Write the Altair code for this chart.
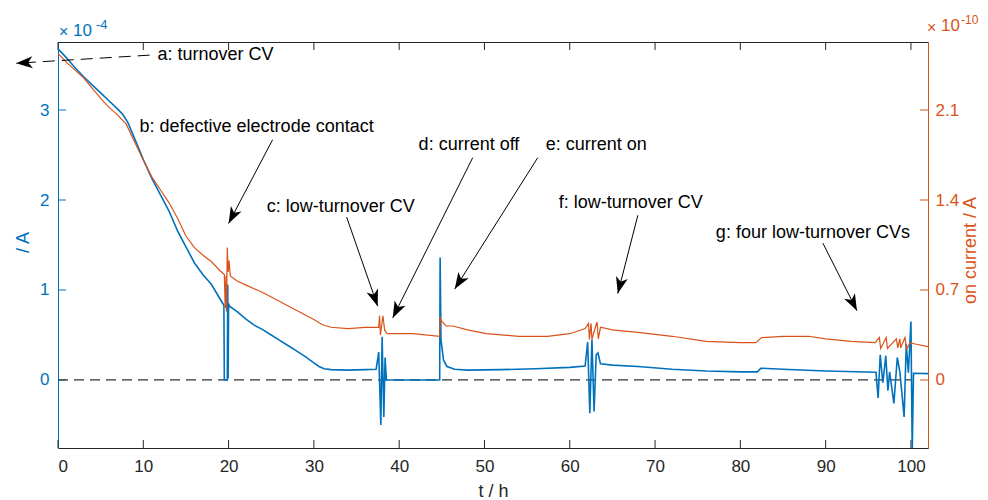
import math
import altair as alt
import pandas as pd

# ---------------- data ----------------
# blue: current, units of 1e-4 A
blue_t = [0, 1, 2, 3, 4, 5, 6, 7, 7.6, 8.2, 9, 10, 11, 12, 13, 14, 15, 16, 17, 18, 19,
          19.45, 19.5, 19.85, 19.9, 19.95, 20.0, 20.1,
          21, 22, 23, 24, 25, 26, 27, 28, 29, 30, 30.6, 31.2,
          32, 34, 36, 37.3,
          37.6, 37.85, 38.0, 38.2, 38.35, 38.5,
          44.75, 44.8, 44.9, 45.2, 45.6, 46.5,
          48, 52, 56, 60, 61.8,
          62.1, 62.35, 62.6, 62.85, 63.1, 63.3, 63.6,
          65, 68, 72, 76, 80, 82, 82.4, 85, 90, 95.9,
          96.15, 96.4, 96.7, 96.85, 97.05, 97.3, 97.5, 98.0, 98.4, 98.7, 99.2, 99.45, 99.7,
          100.0, 100.15, 100.3, 102]
blue_v = [3.68, 3.58, 3.47, 3.37, 3.28, 3.19, 3.10, 3.01, 2.95, 2.86, 2.68, 2.45, 2.24, 2.06,
          1.88, 1.66, 1.48, 1.30, 1.17, 1.06, 0.90,
          0.83, 0.0, 0.0, 1.06, 0.02, 0.85, 0.82,
          0.76, 0.68, 0.61, 0.56, 0.50, 0.44, 0.38, 0.32, 0.26, 0.19, 0.15, 0.125,
          0.115, 0.11, 0.115, 0.12,
          0.31, -0.50, 0.48, -0.41, 0.25, 0.0,
          0.0, 1.36, 0.45, 0.22, 0.15, 0.12,
          0.11, 0.115, 0.125, 0.14, 0.155,
          0.42, -0.37, 0.45, -0.35, 0.28, 0.30, 0.18,
          0.165, 0.15, 0.12, 0.10, 0.09, 0.09, 0.13, 0.12, 0.10, 0.085,
          -0.20, 0.28, -0.03, 0.09, 0.27, -0.12, 0.09, -0.26, 0.25, 0.09, -0.41, 0.40, 0.08,
          0.65, -0.80, 0.075, 0.07]

# orange: ion current, units of 1e-10 A
orange_t = [0, 1, 2, 3, 4, 5, 6, 7, 8, 9, 10, 11, 12, 13, 14, 15, 16, 17, 18, 19,
            19.5, 19.6, 19.7, 19.75, 19.85, 19.95, 20.05, 20.2,
            21, 22, 24, 26, 28, 30, 31, 32, 34, 36, 37.3,
            37.6, 37.7, 37.8, 38.1, 38.3, 38.6,
            41.6, 44.75, 44.8, 45.0, 45.5, 46.3,
            48, 50.2, 54, 57.4, 60, 61.8,
            62.2, 62.3, 62.5, 62.6, 63.0, 63.2, 63.35, 63.6,
            65, 68, 72, 76, 80, 81.8, 82.5, 85, 88, 90, 93, 95.8,
            96.3, 96.45, 97.1, 97.25, 98.3, 98.45, 98.7, 98.8, 99.3, 99.5, 99.9, 100.5, 102]
orange_v = [2.54, 2.47, 2.41, 2.35, 2.27, 2.19, 2.12, 2.06, 1.99, 1.85, 1.71, 1.58, 1.48, 1.38,
            1.26, 1.12, 1.03, 0.97, 0.92, 0.85,
            0.82, 0.56, 0.81, 0.53, 1.03, 0.84, 0.93, 0.81,
            0.77, 0.74, 0.68, 0.61, 0.54, 0.47, 0.43, 0.41, 0.40, 0.41, 0.41,
            0.41, 0.50, 0.35, 0.50, 0.385, 0.36,
            0.36, 0.34, 0.49, 0.455, 0.42, 0.42,
            0.39, 0.36, 0.34, 0.34, 0.36, 0.40,
            0.44, 0.315, 0.44, 0.315, 0.41, 0.45, 0.32, 0.41,
            0.39, 0.37, 0.34, 0.30, 0.29, 0.29, 0.33, 0.34, 0.34, 0.32, 0.30, 0.29,
            0.33, 0.245, 0.33, 0.245, 0.32, 0.25, 0.32, 0.25, 0.33, 0.24, 0.29, 0.28, 0.26]

x_ticks = [0, 10, 20, 30, 40, 50, 60, 70, 80, 90, 100]
left_ticks = [0, 1, 2, 3]
right_ticks = [0, 0.7, 1.4, 2.1]
zero_line_t = [0, 100]

ann_label = ["a: turnover CV", "b: defective electrode contact", "c: low-turnover CV",
             "d: current off", "e: current on", "f: low-turnover CV", "g: four low-turnover CVs"]
ann_text_t = [11.67, 9.56, 24.46, 42.28, 57.18, 58.71, 77.13]
ann_text_v = [3.61, 2.81, 1.92, 2.61, 2.61, 1.97, 1.63]
ann_start_t = [10.74, 25.16, 33.84, 48.62, 56.24, 67.98, 89.68]
ann_start_v = [3.61, 2.67, 1.81, 2.47, 2.47, 1.83, 1.52]
ann_tip_t = [-4.91, 20.0, 37.48, 39.24, 46.51, 65.63, 93.67]
ann_tip_v = [3.52, 1.74, 0.82, 0.69, 1.01, 0.96, 0.77]
ann_dashed = [True, False, False, False, False, False, False]

# ---------------- styling ----------------
W, H = 870, 406
XD = [0, 102]
YL = [-0.756, 3.756]
YR = [-0.529, 2.629]
BLUE = "#0072BD"
ORANGE = "#D95319"
DARK = "#262626"
FONT = "Liberation Sans"
ARROW = "M0,0 L0.55,1.5 L0,1.1 L-0.55,1.5 Z"
TICK_FS = 17
TEXT_FS = 18

xs = alt.Scale(domain=XD, nice=False, zero=False)
x_axis = alt.Axis(values=x_ticks, ticks=False, domain=False, grid=False,
                  labelFontSize=TICK_FS, labelColor=DARK, labelPadding=10,
                  title="t / h", titleFontSize=TEXT_FS, titleFontWeight="normal",
                  titleColor=DARK, titleY=48, titleBaseline="alphabetic")


def X(f):
    return alt.X(f"{f}:Q", scale=xs, axis=x_axis)


yl_scale = alt.Scale(domain=YL, nice=False, zero=False)
yl_axis = alt.Axis(orient="left", values=left_ticks, ticks=False, grid=False,
                   domainColor=BLUE, labelColor=BLUE, labelFontSize=TICK_FS, labelPadding=9,
                   title="/ A", titleColor=BLUE, titleFontSize=TEXT_FS, titleFontWeight="normal",
                   titleAngle=270, titleX=-30, titleY=200, titleBaseline="alphabetic",
                   titleAlign="center")


def YLf(f):
    return alt.Y(f"{f}:Q", scale=yl_scale, axis=yl_axis)


def YAnn(f):
    return alt.Y(f"{f}:Q", scale=alt.Scale(domain=YL, nice=False, zero=False), axis=None)


yr_scale = alt.Scale(domain=YR, nice=False, zero=False)
yr_axis = alt.Axis(orient="right", values=right_ticks, ticks=False, grid=False,
                   labelExpr="datum.value == 0 ? '0' : format(datum.value, '.1f')",
                   domainColor=ORANGE, labelColor=ORANGE, labelFontSize=TICK_FS, labelPadding=7,
                   title="on current / A", titleColor=ORANGE, titleFontSize=TEXT_FS,
                   titleFontWeight="normal", titleAngle=270, titleX=47, titleY=208,
                   titleBaseline="alphabetic", titleAlign="center")


def YRf(f):
    return alt.Y(f"{f}:Q", scale=yr_scale, axis=yr_axis)


# ---------------- tables ----------------
blue_df = pd.DataFrame({"t": blue_t, "v": blue_v, "i": range(len(blue_t))})
orange_df = pd.DataFrame({"t": orange_t, "w": orange_v, "i": range(len(orange_t))})
xt_df = pd.DataFrame({"t": x_ticks})
lt_df = pd.DataFrame({"v": left_ticks})
rt_df = pd.DataFrame({"w": right_ticks})
zero_df = pd.DataFrame({"t0": [zero_line_t[0]], "t1": [zero_line_t[1]], "v": [0]})

pxh = W / (XD[1] - XD[0])
pxv = H / (YL[1] - YL[0])
angles = []
for a, b, c, d in zip(ann_start_t, ann_start_v, ann_tip_t, ann_tip_v):
    dx = (c - a) * pxh
    dy = -(d - b) * pxv
    angles.append(math.degrees(math.atan2(dx, -dy)) % 360)

ann_df = pd.DataFrame({"label": ann_label, "tt": ann_text_t, "tv": ann_text_v,
                       "t0": ann_start_t, "v0": ann_start_v, "t1": ann_tip_t,
                       "v1": ann_tip_v, "dashed": ann_dashed, "angle": angles})
one = pd.DataFrame({"k": [0]})

# ---------------- blue group ----------------
bottom_ticks = alt.Chart(xt_df).mark_rule(color=DARK, strokeWidth=1).encode(
    x=X("t"), y=alt.value(H), y2=alt.value(H - 8))
top_ticks = alt.Chart(xt_df).mark_rule(color=DARK, strokeWidth=1).encode(
    x=X("t"), y=alt.value(0), y2=alt.value(8))
left_tk = alt.Chart(lt_df).mark_rule(color=BLUE, strokeWidth=1).encode(
    y=YLf("v"), x=alt.value(0), x2=alt.value(8))
zero = alt.Chart(zero_df).mark_rule(color="#333333", strokeWidth=1.2, strokeDash=[10, 6]).encode(
    x=X("t0"), x2="t1", y=YLf("v"))
blue_line = alt.Chart(blue_df).mark_line(color=BLUE, strokeWidth=1.6, clip=True).encode(
    x=X("t"), y=YLf("v"), order=alt.Order("i:Q"))

exp_l1 = alt.Chart(one).mark_text(text="×", fontSize=16, color=BLUE, align="left",
                                  baseline="middle").encode(x=alt.value(1), y=alt.value(-10))
exp_l2 = alt.Chart(one).mark_text(text="10", fontSize=17, color=BLUE, align="left",
                                  baseline="middle").encode(x=alt.value(15), y=alt.value(-11))
exp_l3 = alt.Chart(one).mark_text(text="-4", fontSize=13, color=BLUE, align="left",
                                  baseline="middle").encode(x=alt.value(38), y=alt.value(-17))

blue_group = alt.layer(bottom_ticks, top_ticks, left_tk, zero, blue_line,
                       exp_l1, exp_l2, exp_l3)

# ---------------- orange group ----------------
right_tk = alt.Chart(rt_df).mark_rule(color=ORANGE, strokeWidth=1).encode(
    y=YRf("w"), x=alt.value(W - 8), x2=alt.value(W))
orange_line = alt.Chart(orange_df).mark_line(color=ORANGE, strokeWidth=1.2, clip=True).encode(
    x=X("t"), y=YRf("w"), order=alt.Order("i:Q"))
exp_r1 = alt.Chart(one).mark_text(text="×", fontSize=16, color=ORANGE, align="left",
                                  baseline="middle").encode(x=alt.value(W - 1), y=alt.value(-14))
exp_r2 = alt.Chart(one).mark_text(text="10", fontSize=17, color=ORANGE, align="left",
                                  baseline="middle").encode(x=alt.value(W + 13), y=alt.value(-16))
exp_r3 = alt.Chart(one).mark_text(text="-10", fontSize=12, color=ORANGE, align="left",
                                  baseline="middle").encode(x=alt.value(W + 33), y=alt.value(-22))
orange_group = alt.layer(right_tk, orange_line, exp_r1, exp_r2, exp_r3)

# ---------------- annotation group ----------------
solid = ann_df[~ann_df["dashed"]]
dashed = ann_df[ann_df["dashed"]]
lines_solid = alt.Chart(solid).mark_rule(color="black", strokeWidth=1, clip=False).encode(
    x=X("t0"), x2="t1", y=YAnn("v0"), y2="v1")
lines_dashed = alt.Chart(dashed).mark_rule(color="black", strokeWidth=1, strokeDash=[12, 7],
                                           clip=False).encode(
    x=X("t0"), x2="t1", y=YAnn("v0"), y2="v1")
heads = alt.Chart(ann_df).mark_point(shape=ARROW, filled=True, color="black", opacity=1,
                                     size=484, clip=False).encode(
    x=X("t1"), y=YAnn("v1"), angle=alt.Angle("angle:Q", scale=None))
texts = alt.Chart(ann_df).mark_text(align="left", baseline="middle", fontSize=TEXT_FS,
                                    color="black").encode(
    x=X("tt"), y=YAnn("tv"), text="label:N")
ann_group = alt.layer(lines_solid, lines_dashed, heads, texts)

chart = alt.layer(blue_group, orange_group, ann_group).resolve_scale(y="independent").properties(
    width=W, height=H,
    autosize=alt.AutoSizeParams(type="none"),
    padding={"left": 50, "top": 34, "right": 52, "bottom": 52},
).configure(font=FONT).configure_view(stroke=DARK, strokeWidth=1)

chart.save("out.html", embed_options={"renderer": "svg", "actions": False})
